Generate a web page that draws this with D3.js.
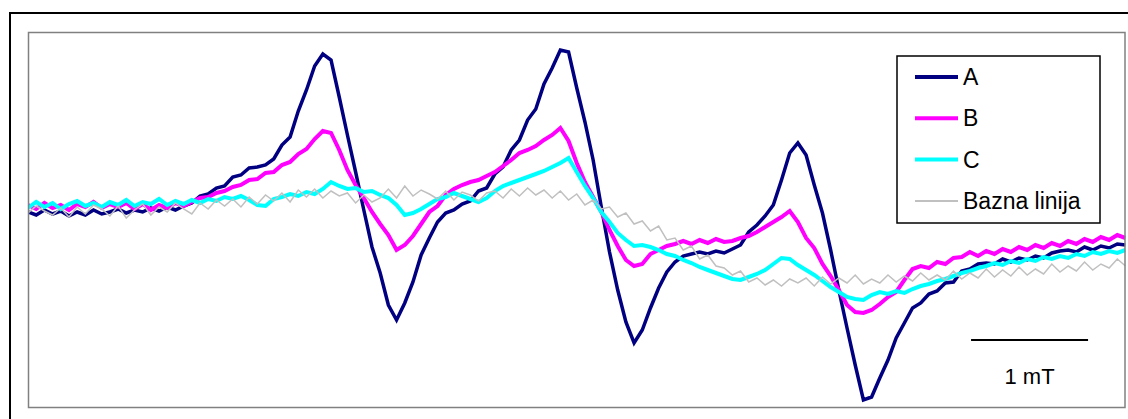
<!DOCTYPE html>
<html>
<head>
<meta charset="utf-8">
<script src="https://cdn.jsdelivr.net/npm/d3@7"></script>
<style>
  body { margin: 0; background: #fff; }
  text { font-family: "Liberation Sans", Arial, sans-serif; fill: #000; }
</style>
</head>
<body>
<script>
// field axis: 135 samples, 0.07 mT apart
const field = d3.range(0, 135).map(i => +(i * 0.07).toFixed(2))

// EPR signals (arbitrary units)
const seriesA = [3,0,5,1,4,-1,3,0,5,1,3,6,2,5,3,7,4,8,5,9,
  12,19,21,27,29,38,40,47,48,50,56,70,78,104,125,149,161,155,118,80,
  43,5,-32,-58,-90,-105,-88,-67,-40,-23,-7,2,5,11,14,24,27,41,48,65,
  75,95,106,131,147,165,163,127,93,55,8,-37,-75,-107,-128,-115,-93,-73,-57,-47,
  -41,-39,-37,-39,-36,-38,-34,-30,-17,-10,-1,10,35,62,72,60,30,2,-35,-75,
  -113,-150,-185,-182,-163,-145,-123,-108,-93,-88,-79,-76,-68,-67,-56,-54,-49,-48,-49,-44,
  -47,-43,-45,-41,-43,-38,-36,-35,-37,-32,-35,-31,-33,-29,-30]
const seriesB = [10,6,12,7,10,5,11,8,13,7,11,8,12,6,11,5,10,7,12,9,
  13,17,18,22,24,28,30,35,36,42,43,50,53,61,66,76,84,82,65,45,
  30,17,3,-9,-20,-35,-30,-21,-9,3,9,20,26,30,33,35,39,43,49,55,
  62,65,69,75,80,87,74,52,33,18,3,-15,-31,-45,-51,-49,-39,-35,-31,-29,
  -26,-29,-25,-28,-24,-27,-26,-23,-21,-17,-12,-7,-2,4,-7,-23,-33,-49,-61,-75,
  -90,-97,-98,-95,-89,-82,-77,-65,-54,-51,-53,-47,-49,-43,-42,-37,-41,-36,-39,-34,
  -37,-32,-35,-30,-33,-28,-31,-26,-29,-24,-27,-22,-25,-20,-23]
const seriesC = [7,13,8,12,6,11,14,9,12,8,13,10,15,9,13,11,16,10,14,11,
  15,12,16,14,18,16,19,15,10,9,16,18,21,19,23,21,26,33,29,26,
  27,23,24,20,17,10,0,2,6,11,16,18,22,19,16,13,17,24,29,32,
  35,38,41,44,48,52,57,43,29,17,3,-7,-18,-25,-31,-30,-32,-35,-39,-41,
  -45,-48,-52,-55,-58,-61,-64,-65,-62,-59,-55,-49,-43,-44,-50,-55,-60,-66,-72,-77,
  -82,-84,-85,-80,-77,-79,-76,-78,-74,-71,-69,-66,-64,-61,-58,-56,-53,-51,-48,-50,
  -46,-48,-44,-46,-42,-44,-41,-43,-39,-41,-37,-39,-36,-38,-35]
const seriesBase = [2,9,4,0,7,-2,8,1,10,6,-1,9,-3,5,11,0,8,3,12,6,
  1,12,6,15,9,16,8,18,11,20,14,22,13,25,18,26,17,24,19,22,
  12,20,13,17,26,17,29,19,25,21,16,24,15,23,20,14,22,24,17,26,
  19,27,20,25,17,24,15,21,10,15,6,8,-2,2,-9,-6,-16,-11,-25,-23,
  -35,-31,-44,-40,-51,-53,-60,-56,-67,-63,-70,-65,-71,-64,-68,-63,-71,-62,-69,-63,
  -68,-60,-69,-64,-68,-60,-67,-61,-66,-58,-65,-60,-65,-56,-64,-58,-63,-54,-62,-55,
  -61,-52,-60,-54,-59,-49,-57,-51,-56,-47,-55,-49,-53,-44,-51]

const seriesNames = ['A', 'B', 'C', 'Bazna linija']
const seriesColors = ['#000080', '#FF00FF', '#00FFFF', '#C0C0C0']
const seriesWidths = [3.5, 4, 4, 1.5]
const allSeries = [seriesA, seriesB, seriesC, seriesBase]

const scaleBarLabel = '1 mT'
const scaleBarStart = 8.06   // mT
const scaleBarLength = 1     // mT

const w = 1128
const h = 419
const plot = { left: 28, top: 32, right: 1125.5, bottom: 407 }

const svg = d3.select('body')
  .append('svg')
  .attr('width', w)
  .attr('height', h)

// outer chart frame
svg.append('rect')
  .attr('x', 10).attr('y', 13)
  .attr('width', w).attr('height', h)
  .attr('fill', 'none')
  .attr('stroke', '#000')
  .attr('stroke-width', 2)

const xScale = d3.scaleLinear()
  .domain([0, 9.38])
  .range([plot.left, plot.right])
const yScale = d3.scaleLinear()
  .domain([-192, 183])
  .range([plot.bottom, plot.top])

svg.append('clipPath').attr('id', 'clip')
  .append('rect')
  .attr('x', plot.left).attr('y', plot.top)
  .attr('width', plot.right - plot.left).attr('height', plot.bottom - plot.top)

const line = d3.line()
  .x((d, i) => xScale(field[i]))
  .y(d => yScale(d))

svg.append('g')
  .attr('clip-path', 'url(#clip)')
  .selectAll('path')
  .data(allSeries)
  .enter()
  .append('path')
  .attr('d', d => line(d))
  .attr('fill', 'none')
  .attr('stroke', (d, i) => seriesColors[i])
  .attr('stroke-width', (d, i) => seriesWidths[i])

// plot area border
svg.append('rect')
  .attr('x', plot.left + 0.5).attr('y', plot.top + 0.5)
  .attr('width', plot.right - plot.left - 1).attr('height', plot.bottom - plot.top)
  .attr('fill', 'none')
  .attr('stroke', '#808080')
  .attr('stroke-width', 1.5)

// scale bar
const barY = 340
svg.append('line')
  .attr('x1', xScale(scaleBarStart))
  .attr('x2', xScale(scaleBarStart + scaleBarLength))
  .attr('y1', barY).attr('y2', barY)
  .attr('stroke', '#000')
  .attr('stroke-width', 2)
svg.append('text')
  .attr('x', xScale(scaleBarStart + scaleBarLength / 2))
  .attr('y', 384)
  .attr('text-anchor', 'middle')
  .style('font-size', '22px')
  .text(scaleBarLabel)

// legend
const legend = svg.append('g').attr('transform', 'translate(897,56)')
legend.append('rect')
  .attr('width', 203).attr('height', 167)
  .attr('fill', '#fff')
  .attr('stroke', '#000')
  .attr('stroke-width', 1.5)
const rows = legend.selectAll('g.row')
  .data(seriesNames)
  .enter()
  .append('g')
  .attr('class', 'row')
  .attr('transform', (d, i) => 'translate(0,' + (21 + i * 41.3) + ')')
rows.append('line')
  .attr('x1', 18).attr('x2', 61)
  .attr('stroke', (d, i) => seriesColors[i])
  .attr('stroke-width', (d, i) => i === 3 ? 2 : 4)
rows.append('text')
  .attr('x', 66)
  .attr('y', 8)
  .style('font-size', '23px')
  .text(d => d)
</script>
</body>
</html>
